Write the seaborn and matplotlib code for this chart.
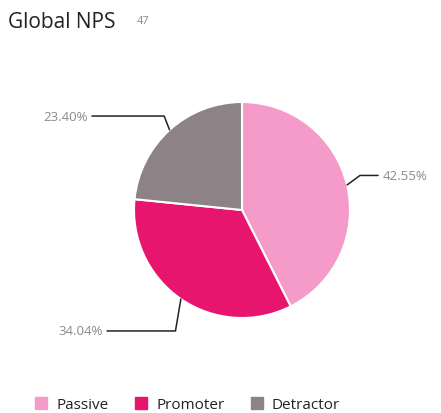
import matplotlib
matplotlib.use("Agg")
import matplotlib.pyplot as plt
from matplotlib.lines import Line2D
import numpy as np
import seaborn as sns

# data
categories = ["Passive", "Promoter", "Detractor"]
shares = [42.55, 34.04, 23.40]
colors = ["#f59bca", "#e8156e", "#8d8386"]
title = "Global NPS"
total = "47"

# label layout (axes units, radius = 1): elbow height and end of the leader line
label_y = [0.32, -1.12, 0.87]
label_x = [1.26, -1.25, -1.39]

sns.set_theme(style="white")
plt.rcParams["font.family"] = ["Open Sans", "DejaVu Sans"]

fig = plt.figure(figsize=(4.41, 4.14), dpi=100)
# pie centred near (242, 211) px, radius ~108 px
ax = fig.add_axes([(242 - 108) / 441, (414 - 211 - 108) / 414, 216 / 441, 216 / 414])
wedges, _ = ax.pie(shares, colors=colors, startangle=90, counterclock=False,
                   wedgeprops=dict(edgecolor="white", linewidth=1.5))
ax.set_xlim(-1, 1)
ax.set_ylim(-1, 1)
ax.set_aspect("equal")
ax.axis("off")

# leader lines with labels
for w, val, ly, lx in zip(wedges, shares, label_y, label_x):
    ang = np.deg2rad((w.theta1 + w.theta2) / 2)
    x0, y0 = np.cos(ang), np.sin(ang)
    side = 1 if x0 > 0 else -1
    xe = x0 + (0.12 if side > 0 else -0.05)
    ax.plot([x0, xe, lx], [y0, ly, ly], color="#222222", lw=1.1, clip_on=False)
    ax.text(lx + side * 0.04, ly, f"{val:.2f}%", ha="left" if side > 0 else "right",
            va="center", fontsize=9.5, color="#8a8a8a", clip_on=False)

fig.text(8 / 441, 1 - 22 / 414, title, fontsize=15, color="#222222", va="center")
fig.text(137 / 441, 1 - 21 / 414, total, fontsize=8, color="#888888", va="center")

handles = [Line2D([0], [0], marker="s", linestyle="", markersize=8,
                  markerfacecolor=c, markeredgecolor=c) for c in colors]
fig.legend(handles, categories, loc="center left", bbox_to_anchor=(20 / 441, 1 - 406 / 414),
           ncol=3, frameon=False, fontsize=11, handletextpad=0.5, columnspacing=1.6,
           handlelength=1.0, labelcolor="#222222")

fig.savefig("out.png", dpi=100)
